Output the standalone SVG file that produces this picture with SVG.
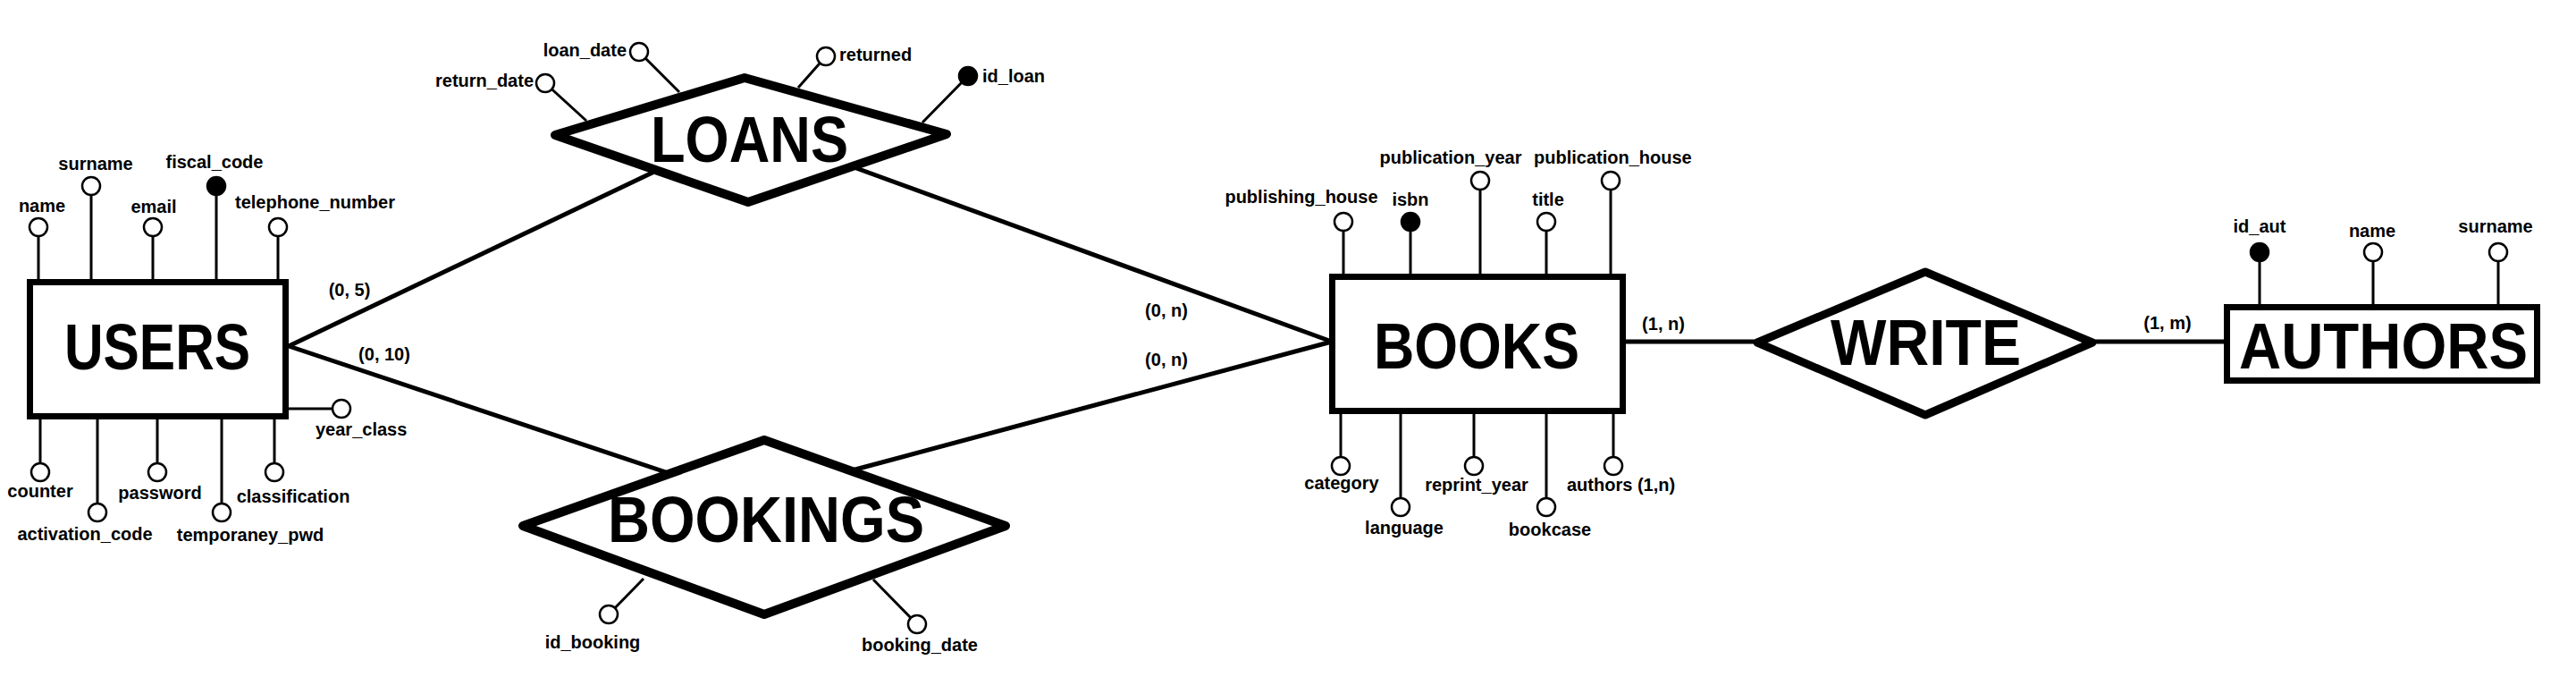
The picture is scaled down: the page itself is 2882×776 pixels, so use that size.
<svg xmlns="http://www.w3.org/2000/svg" width="2882" height="776" viewBox="0 0 2882 776">
<style>
text{font-family:"Liberation Sans",Arial,sans-serif;font-weight:bold;fill:#000}
.lbl{font-size:20px}
.big{font-size:72px}
.mid{text-anchor:middle}
.end{text-anchor:end}
.ent{fill:#fff;stroke:#000;stroke-width:7}
.rel{fill:#fff;stroke:#000;stroke-width:10;stroke-linejoin:round}
.con{stroke:#000;stroke-width:5;fill:none}
.att{stroke:#000;stroke-width:3;fill:none}
.ao{fill:#fff;stroke:#000;stroke-width:2.5}
.ak{fill:#000;stroke:#000;stroke-width:2.5}
</style>
<rect width="2882" height="776" fill="#fff"/>
<g id="connectors">
<line class="con" x1="323" y1="387" x2="732" y2="192"/>
<line class="con" x1="323" y1="387" x2="745" y2="528"/>
<line class="con" x1="958" y1="188" x2="1490" y2="382"/>
<line class="con" x1="953" y1="526" x2="1490" y2="382"/>
<line class="con" x1="1819" y1="382" x2="1966" y2="382"/>
<line class="con" x1="2341" y1="382" x2="2488" y2="382"/>
<text class="lbl mid" x="391" y="331">(0, 5)</text>
<text class="lbl mid" x="430" y="403">(0, 10)</text>
<text class="lbl mid" x="1305" y="354">(0, n)</text>
<text class="lbl mid" x="1305" y="409">(0, n)</text>
<text class="lbl mid" x="1861" y="369">(1, n)</text>
<text class="lbl mid" x="2425" y="368">(1, m)</text>
</g>
<g id="users">
<path class="att" d="M43 254V315M102 208V315M171 254V315M242 208V315M311 254V315M45 469V528M109 469V573M176 469V528M248 469V573M307 469V528M323 457H382"/>
<rect class="ent" x="33.5" y="315.5" width="286" height="150"/>
<text class="big mid" x="176" y="413" textLength="208" lengthAdjust="spacingAndGlyphs">USERS</text>
<circle class="ao" cx="43" cy="254" r="10"/>
<circle class="ao" cx="102" cy="208" r="10"/>
<circle class="ao" cx="171" cy="254" r="10"/>
<circle class="ak" cx="242" cy="208" r="10"/>
<circle class="ao" cx="311" cy="254" r="10"/>
<circle class="ao" cx="45" cy="528" r="10"/>
<circle class="ao" cx="109" cy="573" r="10"/>
<circle class="ao" cx="176" cy="528" r="10"/>
<circle class="ao" cx="248" cy="573" r="10"/>
<circle class="ao" cx="307" cy="528" r="10"/>
<circle class="ao" cx="382" cy="457" r="10"/>
<text class="lbl mid" x="47" y="237">name</text>
<text class="lbl mid" x="107" y="190">surname</text>
<text class="lbl mid" x="172" y="238">email</text>
<text class="lbl mid" x="240" y="188">fiscal_code</text>
<text class="lbl" x="263" y="233">telephone_number</text>
<text class="lbl mid" x="45" y="556">counter</text>
<text class="lbl mid" x="95" y="604">activation_code</text>
<text class="lbl mid" x="179" y="558">password</text>
<text class="lbl mid" x="280" y="605">temporaney_pwd</text>
<text class="lbl mid" x="328" y="562">classification</text>
<text class="lbl" x="353" y="487">year_class</text>
</g>
<g id="loans">
<path class="att" d="M610 93L656 135M715 58L760 103M924 63L893 98M1083 85L1032 137"/>
<polygon class="rel" points="621,151 833,87 1059,150 837,226"/>
<text class="big mid" x="838.5" y="181" textLength="221" lengthAdjust="spacingAndGlyphs">LOANS</text>
<circle class="ao" cx="610" cy="93" r="10"/>
<circle class="ao" cx="715" cy="58" r="10"/>
<circle class="ao" cx="924" cy="63" r="10"/>
<circle class="ak" cx="1083" cy="85" r="10"/>
<text class="lbl end" x="597" y="97">return_date</text>
<text class="lbl end" x="701" y="63">loan_date</text>
<text class="lbl" x="939" y="68">returned</text>
<text class="lbl" x="1099" y="92">id_loan</text>
</g>
<g id="bookings">
<path class="att" d="M681 687L720 647M1026 698L977 648"/>
<polygon class="rel" points="585,588 855,492 1125,588 855,687"/>
<text class="big mid" x="857" y="606" textLength="354" lengthAdjust="spacingAndGlyphs">BOOKINGS</text>
<circle class="ao" cx="681" cy="687" r="10"/>
<circle class="ao" cx="1026" cy="698" r="10"/>
<text class="lbl mid" x="663" y="725">id_booking</text>
<text class="lbl mid" x="1029" y="728">booking_date</text>
</g>
<g id="books">
<path class="att" d="M1503 248V309M1578 248V309M1656 202V309M1730 248V309M1802 202V309M1500 460V521M1567 460V567M1649 460V521M1730 460V567M1805 460V521"/>
<rect class="ent" x="1490.5" y="309.5" width="325" height="150"/>
<text class="big mid" x="1652" y="412" textLength="230" lengthAdjust="spacingAndGlyphs">BOOKS</text>
<circle class="ao" cx="1503" cy="248" r="10"/>
<circle class="ak" cx="1578" cy="248" r="10"/>
<circle class="ao" cx="1656" cy="202" r="10"/>
<circle class="ao" cx="1730" cy="248" r="10"/>
<circle class="ao" cx="1802" cy="202" r="10"/>
<circle class="ao" cx="1500" cy="521" r="10"/>
<circle class="ao" cx="1567" cy="567" r="10"/>
<circle class="ao" cx="1649" cy="521" r="10"/>
<circle class="ao" cx="1730" cy="567" r="10"/>
<circle class="ao" cx="1805" cy="521" r="10"/>
<text class="lbl mid" x="1456" y="227">publishing_house</text>
<text class="lbl mid" x="1578" y="230">isbn</text>
<text class="lbl mid" x="1623" y="183">publication_year</text>
<text class="lbl mid" x="1732" y="230">title</text>
<text class="lbl" x="1716" y="183">publication_house</text>
<text class="lbl mid" x="1501" y="547">category</text>
<text class="lbl mid" x="1571" y="597">language</text>
<text class="lbl mid" x="1652" y="549">reprint_year</text>
<text class="lbl mid" x="1734" y="599">bookcase</text>
<text class="lbl" x="1753" y="549">authors (1,n)</text>
</g>
<g id="write">
<polygon class="rel" style="stroke-width:9" points="1966,383 2154,304 2341,383 2154,464"/>
<text class="big mid" x="2154.5" y="408" textLength="213" lengthAdjust="spacingAndGlyphs">WRITE</text>
</g>
<g id="authors">
<path class="att" d="M2528 282V344M2655 282V344M2795 282V344"/>
<rect class="ent" x="2491.5" y="343.5" width="347" height="82"/>
<text class="big mid" x="2666.5" y="412" textLength="323" lengthAdjust="spacingAndGlyphs">AUTHORS</text>
<circle class="ak" cx="2528" cy="282" r="10"/>
<circle class="ao" cx="2655" cy="282" r="10"/>
<circle class="ao" cx="2795" cy="282" r="10"/>
<text class="lbl mid" x="2528" y="260">id_aut</text>
<text class="lbl mid" x="2654" y="265">name</text>
<text class="lbl mid" x="2792" y="260">surname</text>
</g>
</svg>
